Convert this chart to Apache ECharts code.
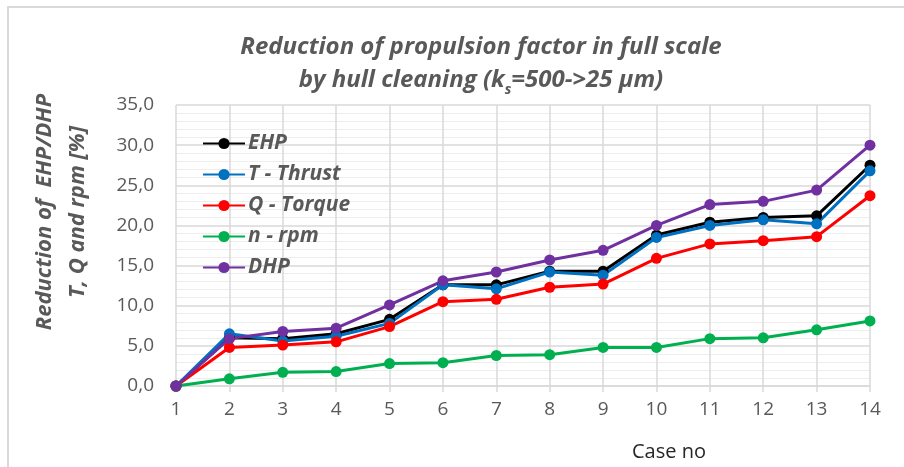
<!DOCTYPE html>
<html>
<head>
<meta charset="utf-8">
<script src="https://cdn.jsdelivr.net/npm/echarts@6/dist/echarts.min.js"></script>
<style>
  html, body { margin: 0; padding: 0; background: #fff; }
  #chart { width: 904px; height: 467px; }
</style>
</head>
<body>
<div id="chart"></div>
<script>
// case numbers on the x axis
const cases = ['1', '2', '3', '4', '5', '6', '7', '8', '9', '10', '11', '12', '13', '14']

// reduction in %
const ehp = [0, 6.0, 5.9, 6.5, 8.3, 12.6, 12.6, 14.3, 14.3, 18.8, 20.4, 21.0, 21.2, 27.5]
const thrust = [0, 6.5, 5.6, 6.2, 7.8, 12.6, 12.1, 14.2, 13.8, 18.5, 20.0, 20.7, 20.2, 26.8]
const torque = [0, 4.8, 5.1, 5.5, 7.4, 10.5, 10.8, 12.3, 12.7, 15.9, 17.7, 18.1, 18.6, 23.7]
const rpm = [0, 0.9, 1.7, 1.8, 2.8, 2.9, 3.8, 3.9, 4.8, 4.8, 5.9, 6.0, 7.0, 8.1]
const dhp = [0, 5.9, 6.8, 7.2, 10.1, 13.1, 14.2, 15.7, 16.9, 20.0, 22.6, 23.0, 24.4, 30.0]

const seriesNames = ['EHP', 'T - Thrust', 'Q - Torque', 'n - rpm', 'DHP']
const seriesColors = ['#000000', '#0070C0', '#FF0000', '#00B050', '#7030A0']
const seriesData = [ehp, thrust, torque, rpm, dhp]

const FONT = 'Open Sans'
const GREY = '#595959'

const chart = echarts.init(document.getElementById('chart'))

chart.setOption({
  animation: false,
  backgroundColor: '#fff',
  textStyle: { fontFamily: FONT },
  title: {
    text: 'Reduction of propulsion factor in full scale\nby hull cleaning (k{sub|s}=500->25 µm)',
    left: 476,
    top: 26,
    textAlign: 'center',
    textStyle: {
      fontFamily: FONT,
      fontSize: 24,
      fontWeight: 'bold',
      fontStyle: 'italic',
      color: GREY,
      lineHeight: 33,
      rich: {
        sub: {
          fontFamily: FONT,
          fontSize: 14,
          fontWeight: 'bold',
          fontStyle: 'italic',
          color: GREY,
          verticalAlign: 'bottom',
          padding: [12, 0, 0, 0]
        }
      }
    }
  },
  legend: {
    orient: 'vertical',
    left: 197,
    top: 128,
    itemGap: 10,
    itemWidth: 42,
    itemHeight: 14,
    textStyle: {
      fontFamily: FONT,
      fontSize: 21,
      fontWeight: 'bold',
      fontStyle: 'italic',
      color: GREY,
      lineHeight: 20,
      padding: [0, 0, 0, -2]
    },
    data: seriesNames
  },
  grid: {
    left: 176,
    right: 34,
    top: 105,
    bottom: 80
  },
  xAxis: {
    type: 'category',
    boundaryGap: false,
    data: cases,
    name: 'Case no',
    nameLocation: 'middle',
    nameGap: 56,
    nameTextStyle: {
      fontFamily: FONT,
      fontSize: 20,
      color: '#262626',
      padding: [0, 0, 0, 292]
    },
    axisLine: { lineStyle: { color: '#D9D9D9', width: 1.5 } },
    axisTick: { show: true, alignWithLabel: true, length: 6, lineStyle: { color: '#D9D9D9', width: 1.5 } },
    axisLabel: { fontFamily: FONT, fontSize: 19, color: GREY, margin: 14 },
    splitLine: { show: true, lineStyle: { color: '#D9D9D9', width: 1.5 } }
  },
  yAxis: {
    type: 'value',
    min: 0,
    max: 35,
    interval: 5,
    axisLine: { show: false },
    axisTick: { show: false },
    axisLabel: {
      fontFamily: FONT,
      fontSize: 19,
      color: GREY,
      margin: 22,
      formatter: v => v.toFixed(1).replace('.', ',')
    },
    splitLine: { show: true, lineStyle: { color: '#D9D9D9', width: 1.5 } },
    minorTick: { show: false, splitNumber: 5 },
    minorSplitLine: { show: true, lineStyle: { color: '#EDEDED', width: 1 } }
  },
  graphic: [
    {
      // outer chart frame, only top and left edge are inside the picture
      type: 'polyline',
      shape: { points: [[8, 470], [8, 7], [910, 7]] },
      style: { stroke: '#D9D9D9', lineWidth: 2, fill: null },
      silent: true
    },
    {
      type: 'text',
      x: 61,
      y: 212,
      rotation: Math.PI / 2,
      style: {
        text: 'Reduction of  EHP/DHP\nT, Q and rpm [%]',
        fontFamily: FONT,
        fontSize: 22,
        fontWeight: 'bold',
        fontStyle: 'italic',
        fill: GREY,
        lineHeight: 33,
        align: 'center',
        verticalAlign: 'middle'
      }
    }
  ],
  series: seriesNames.map((name, i) => ({
    name: name,
    type: 'line',
    data: seriesData[i],
    symbol: 'circle',
    symbolSize: 11,
    color: seriesColors[i],
    lineStyle: { width: 3, color: seriesColors[i] },
    itemStyle: { color: seriesColors[i] }
  }))
})
</script>
</body>
</html>
